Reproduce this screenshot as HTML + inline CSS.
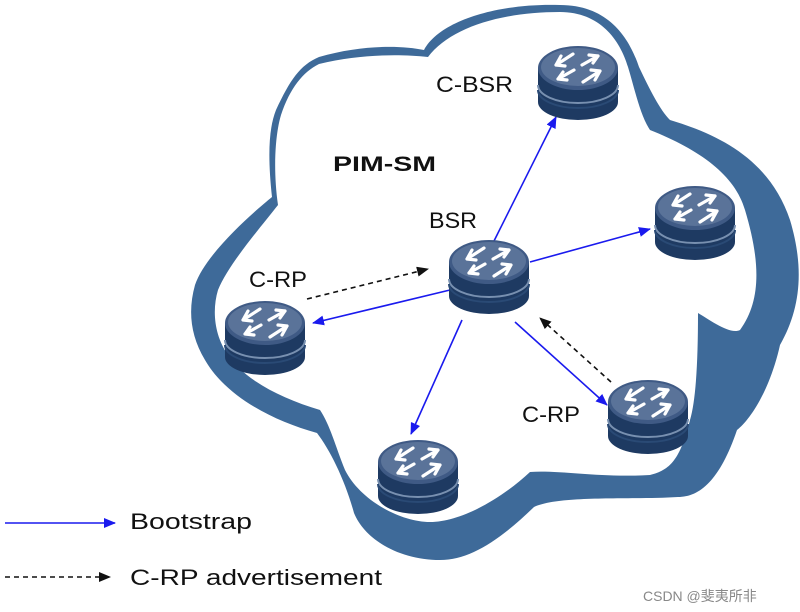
<!DOCTYPE html>
<html><head><meta charset="utf-8"><style>
body{margin:0;background:#fff}
svg{display:block}
text{font-family:"Liberation Sans","Noto Sans CJK SC",sans-serif}
</style></head><body>
<svg width="800" height="612" viewBox="0 0 800 612" xmlns="http://www.w3.org/2000/svg">
<defs>
<marker id="ab" markerWidth="12" markerHeight="10" refX="11" refY="5" orient="auto" markerUnits="userSpaceOnUse"><path d="M0,0L12,5L0,10Z" fill="#1a1aee"/></marker>
<marker id="ak" markerWidth="12" markerHeight="10" refX="11" refY="5" orient="auto" markerUnits="userSpaceOnUse"><path d="M0,0L12,5L0,10Z" fill="#111"/></marker>
<g id="r">
<path d="M-40,0 L-40,34 A40,18 0 0 0 40,34 L40,0 Z" fill="#1e3a62"/>
<path d="M-40,17 A40,18 0 0 0 40,17" fill="none" stroke="#7890b0" stroke-width="2"/>
<path d="M-40,22 A40,18 0 0 0 40,22" fill="none" stroke="#2a4a75" stroke-width="2"/>
<ellipse cx="0" cy="0" rx="40" ry="22" fill="#3f5a85"/>
<ellipse cx="0" cy="-1" rx="37" ry="19" fill="#5a7399"/>
<g fill="none" stroke="#fff" stroke-width="3.2" stroke-linejoin="round" stroke-linecap="round">
<path d="M-22,-3 L-5,-14 M-22,-3 L-17,-12 M-22,-3 L-13,-2"/>
<path d="M22,3 L5,14 M22,3 L17,12 M22,3 L13,2"/>
<path d="M-20,11 L-4,2 M-20,11 L-11,12 M-20,11 L-15,4"/>
<path d="M20,-12 L4,-3 M20,-12 L11,-13 M20,-12 L15,-5"/>
</g>
</g>
</defs>
<path d="M319,57 C360,45 400,45 424,50 C440,20 500,3 560,5 C610,5 630,40 639,67 C650,90 660,110 670,120 C720,135 770,160 790,220 C805,270 800,310 780,345 C770,390 750,420 737,430 C720,480 700,497 678,497 C630,500 560,495 534,507 C500,540 470,560 440,560 C400,560 365,540 354,513 C345,480 330,450 317,433 C270,420 225,395 205,360 C190,335 188,310 195,285 C205,255 250,215 272,197 C268,160 268,130 276,110 C290,80 300,65 319,57 Z" fill="#3e6a99"/>
<path d="M319,64 C360,54 400,54 428,57 C450,28 500,12 560,12 C600,12 620,40 628,67 C635,90 640,115 650,130 C700,150 735,175 745,210 C760,260 762,300 740,330 C730,335 710,320 698,313 C698,360 696,400 690,420 C680,460 670,470 650,475 C600,478 560,470 530,472 C500,500 460,522 430,522 C400,522 360,500 345,470 C335,445 330,425 320,410 C280,398 245,380 228,355 C214,335 212,310 218,290 C228,265 260,228 278,205 C273,170 275,135 281,115 C290,88 303,72 319,64 Z" fill="#fff"/>
<text x="333" y="171" font-size="21" font-weight="bold" fill="#111" textLength="103" lengthAdjust="spacingAndGlyphs">PIM-SM</text>
<g font-size="22" fill="#111">
<text x="436" y="92" textLength="77" lengthAdjust="spacingAndGlyphs">C-BSR</text>
<text x="429" y="228" textLength="48" lengthAdjust="spacingAndGlyphs">BSR</text>
<text x="249" y="287" textLength="58" lengthAdjust="spacingAndGlyphs">C-RP</text>
<text x="522" y="422" textLength="58" lengthAdjust="spacingAndGlyphs">C-RP</text>
</g>
<g stroke="#1a1aee" stroke-width="1.6" fill="none" marker-end="url(#ab)">
<line x1="492" y1="245" x2="556" y2="117"/>
<line x1="530" y1="262" x2="650" y2="229"/>
<line x1="450" y1="290" x2="313" y2="323"/>
<line x1="462" y1="320" x2="411" y2="434"/>
<line x1="515" y1="322" x2="607" y2="405"/>
<line x1="5" y1="523" x2="115" y2="523"/>
</g>
<g stroke="#111" stroke-width="1.6" stroke-dasharray="5,4" fill="none" marker-end="url(#ak)">
<line x1="307" y1="299" x2="428" y2="269"/>
<line x1="611" y1="382" x2="540" y2="318"/>
<line x1="5" y1="577" x2="110" y2="577"/>
</g>
<use href="#r" x="578" y="68"/>
<use href="#r" x="695" y="208"/>
<use href="#r" x="489" y="262"/>
<use href="#r" x="265" y="323"/>
<use href="#r" x="648" y="402"/>
<use href="#r" x="418" y="462"/>
<g font-size="22" fill="#111">
<text x="130" y="529" textLength="122" lengthAdjust="spacingAndGlyphs">Bootstrap</text>
<text x="130" y="585" textLength="252" lengthAdjust="spacingAndGlyphs">C-RP advertisement</text>
</g>
<text x="643" y="601" font-size="14" fill="#888">CSDN @斐夷所非</text>
</svg>
</body></html>
